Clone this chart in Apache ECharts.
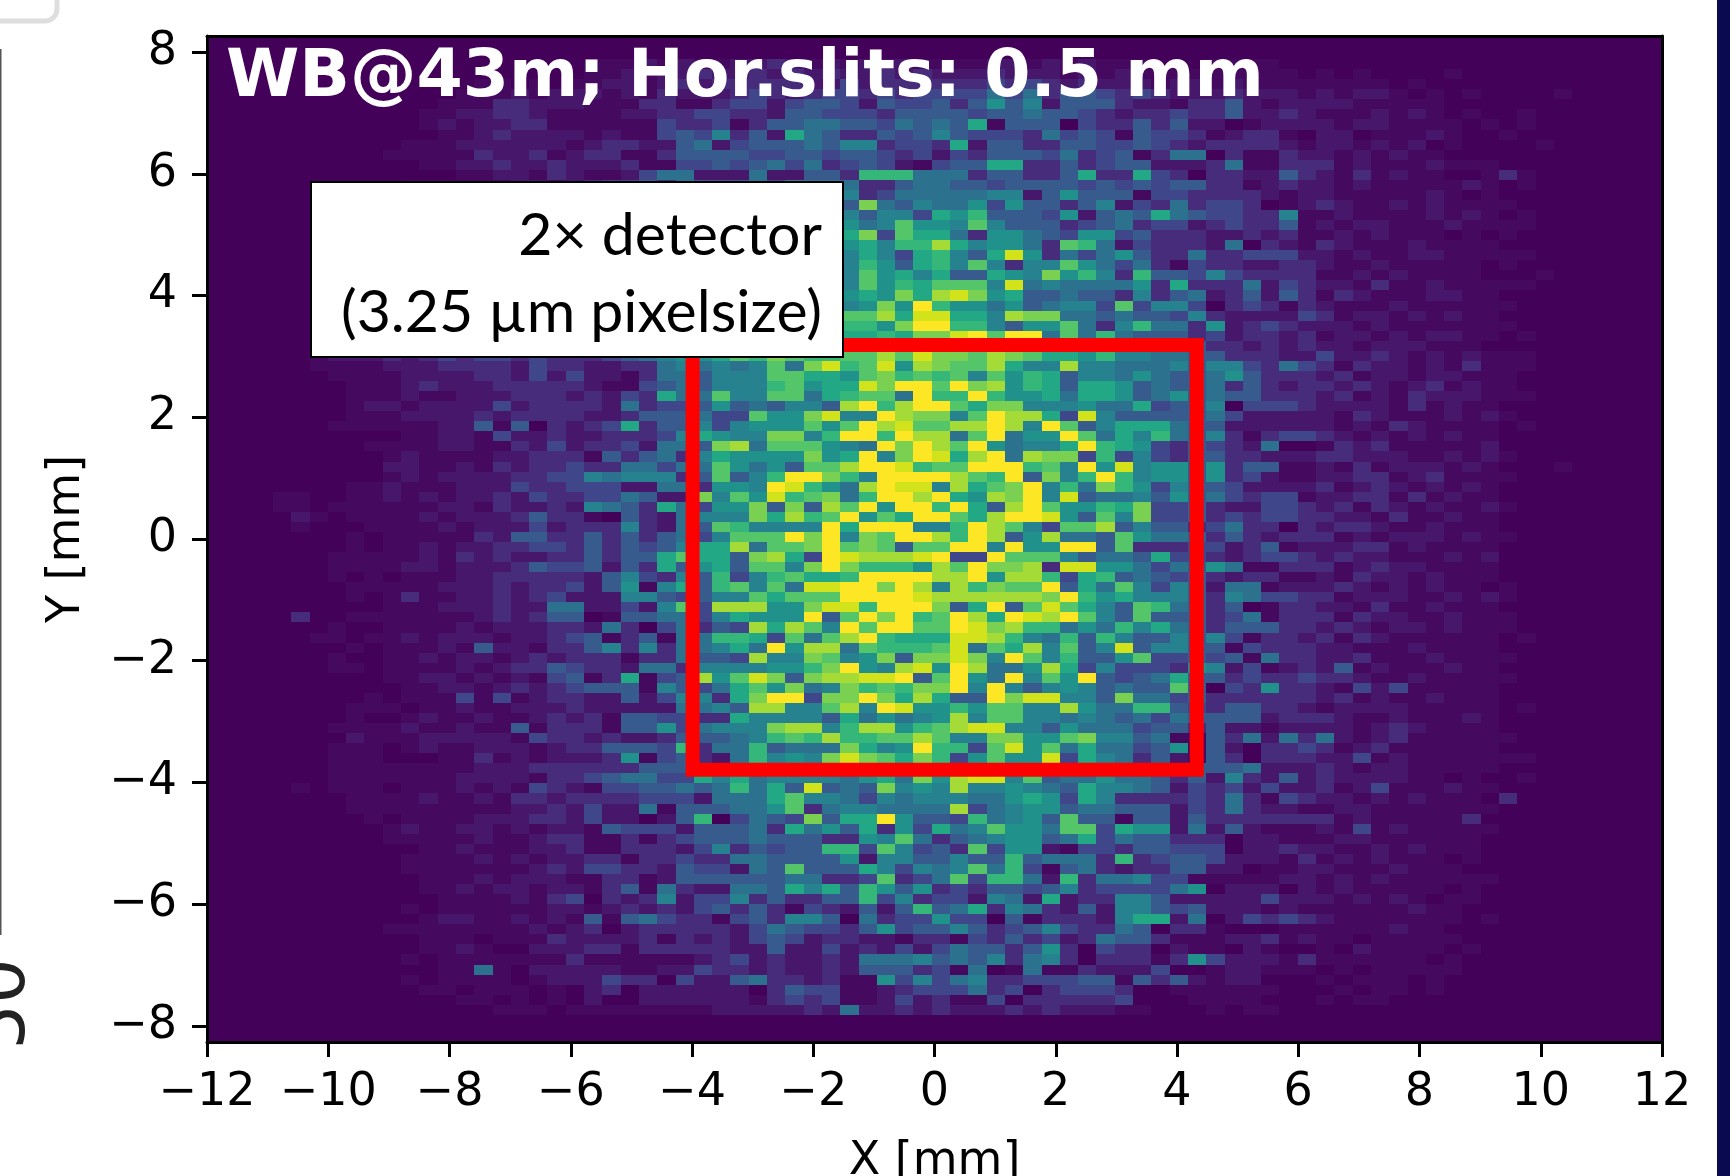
<!DOCTYPE html>
<html>
<head>
<meta charset="utf-8">
<style>html,body{margin:0;padding:0;background:#fff;overflow:hidden}#c{width:1730px;height:1176px}</style>
<script src="https://cdn.jsdelivr.net/npm/echarts@6/dist/echarts.min.js"></script>
</head>
<body>
<div id="c"></div>
<script>
// Histogram bins
const xFirstEdge = -12.12, xBinWidth = 0.30186;
const yFirstEdge = 8.379, yBinHeight = 0.16526;
const groupStartColumn = [0, 21, 41, 61];
const maxLevel = 15;
// Counts per bin, top row first, one hex digit (0..f) per bin, in four column groups.
const heatRows = [
'0 0 0 0','0 0 0 0','0 0 0 0',
'000000000000000000000 11121211223212122211 11221212111000111100 0000000000000000000',
'000000000000000000000 11212232232323223232 22322212121111111110 1010000100000000000',
'000000000000000110101 12212323333322423333 33434323222122121111 1111010000000000000',
'000000000000001112122 21213222343234434344 44646355434322232221 2122101010000100000',
'000000000000011133222 11133113442455425445 35857255532213352122 2211111000000000000',
'000000000000112233211 11223344332554443555 54556554323343352232 1112121010010000000',
'000000000000121223311 11114334135566554656 59155504335352201222 2122111101010000000',
'000000000000011232222 12114547352965335457 54443645415443123310 2201112100100000000',
'000000000001112222221 23322562455565773443 92553355445432333321 2212120100001000000',
'000000000011111322312 33113555544554554342 43555463451366031132 2121211000000000000',
'000000000000112232232 22311445456463454214 55993353455222361133 3121112111000000000',
'000000000000001122132 112466222622553aaa66 63553359339430332253 2131211001310000000',
'000000000001111112212 34453655564766633566 55455554545455331232 2121111121010000000',
'000000111111212322122 43545466657675734666 66772585551443333212 2111112101000000000',
'000000112112122233213 355645677568775c6576 68485535724363443012 3211212111100000000',
'000000111211222322234 44655768877887757749 8a555482565965443371 1211112121010000000',
'000000111122123223233 35467576887a87867b88 7b755534563442343351 2122111211110000000',
'000000112112223232323 46575689a799779c4b99 63886548845333223231 1212111010100000000',
'000000111122212333232 35564778879a98897aad 978863ba624333260321 3211121111000000000',
'000000111212233323332 46566869a87a8879749a 759e8364685336334442 2121122111110000000',
'000000112122223233423 34657786a9a8977a859a 7b7377b8646314332233 2112111110100000000',
'000000111222322343333 45566878a89a997b8979 55987c8a73a554743333 1121211110001000000',
'000000111122323334232 36577889ab9a887b8a9b bb7e6766668393336243 2213112111110000000',
'000000112212233343342 45666979a9ab9a898c9d ec895565537356235253 1321112211000000000',
'000000111222323234434 3557678aa8ab9978c8fa 886856774b4774034313 2111211111100000000',
'000000112122332343443 46667889baabb9bbd9ee 997dcc66565547322224 3122121211000000000',
'000000111223233344332 35568799abbaa9aa8cff aa7588b637a663823432 2212111111100000000',
'000000112222334343443 34568889a9baaa99a9cc efbff6b6a65553423323 1221212211010000000',
'000000111232333443434 45667899abbcaaaacbdc bcbcba98a87765332323 2212221110000000000',
'000000122232343443433 34567889bacbaabbdbec cbdcb998a77665533322 4223212121110000000',
'000000111122233332433 2233676767b6ceabe8dc bbd977d7766675774364 3132212131110000000',
'000000011112222332424 2213665777bb998bcaba b7b8a957768655685333 2312212211100000000',
'000000001112322233333 2114565777ab899ecffb fcd8a959985655635323 3232123121100000000',
'000000001112112223332 3243966b77bb69abb6fa afa88969985685655333 2312132221110000000',
'000000001221222242333 32634458565775dfadff b9cc7778669455704443 2222131211000000000',
'000000001112222323333 223555644b88ce77fdcc 7bfdd94e755555642222 2132111212100000000',
'000000011111122515032 349355747888b8bfdebb ddfd7fb5799965522222 2121321111010000000',
'000000000001122142232 2333479877cc7affafdd 6bf688fb697a65731344 3212121211000000000',
'000000000111122113242 3342665cd6bbb876fcfd bf86779fa98435432600 1323111112000000000',
'000000000012111122333 153563798888c89f7cfe 9df6dcc4a47435533222 3322211212100000000',
'000000000022112132334 3366466b8685bbdffeab bfffab7f8e7885835511 2131222121000100000',
'000000000012122223344 7677735b57affca7ffff dbaf5c7afa7885834211 2233123111100000000',
'000000001121112224334 4422663887fea86dfee7 d9bcf7a6ca8475542222 3123212121000000000',
'000011001121212232433 446522c7b8eabc6affdf 98dcf7e5667585643441 2233131211000000000',
'000011011111122132232 765396488c5c5dbf8ffa f95dfb88a9c445322443 2313212112100000000',
'000002101111212223533 105326777c9dabf8b9ff b9dffe85b7c445343443 3221311211000000000',
'000001000111121222423 3373265ba7777f9fff77 afdb74bbd57553463303 2332112111000000000',
'000000001011111325533 53535647bbbfcf7cbffd afd58d665b8665353233 3121222121100000000',
'000000001011212233443 53545799d6bbcfbcb5bb ff7f88ff5b3334423512 2233121111000000000',
'000000011111213232233 53559b995cd94fedddef 44fbbb75665944323443 2322111212000000000',
'000000011112212223544 525395895bb7cfcaaa8d bfccd3ee886465861133 3123221111000000000',
'000000010101112233333 2574375a47ab99affffd df8dda49a56545323311 2132212111000000000',
'000000001111122232334 2581795ab7b6eeffcfd7 dacbbf596b7475266122 2321212110100000000',
'000000001013112232342 227754577b9bbbffffed dddddcfa897775376443 3122211212100000000',
'000000000011122232266 22427b4ddd88ceeafffc 59f5beb975ba65350133 2213112111000000000',
'000003001111111232355 015566479888f5bfcfab fd9fedfb75b555346133 3132211211100000000',
'000000010011112122233 263046354d9db7fbffbb fecdaa686a7965355533 2321221211100000000',
'000000110112122212234 5135166aa94b6bdfa999 eeda76a5a75575741332 3132111111010000000',
'000000001011121522133 5737366796f8dd6baaab e6b9d7b57e5775514333 2211121111000000000',
'000000010011212212323 331336554d77cb78c5cc ec7fb7a558b445451633 2231112111100000000',
'000000011011112123354 332663777788acf87de8 fd668d94744438724123 2512111211000000000',
'000000000011221212145 139145d8bec5cddeef5b f86f7b8f545695534334 3321121111100000000',
'000000000001122123234 555175469b8c67cabacc f7f757875655b5043833 2142411111000000000',
'000000000101114141233 225247739cff4ccfc9d9 55fcee775c6645333333 2312112111000000000',
'000000001110112112223 222226675dd77bd7fe88 a8bb77d866aa54355332 1222211111010000000',
'000000001001211211232 31554433977775968678 d7bb7767656465555233 3211211121000000000',
'000000011112112115133 3155846777cdd7add8ab dee77586664553522122 2212321111000000000',
'000000002111222221433 2322355567abadaabbdb 77cc88bc775611536263 6212311111100000000',
'000000011101211222123 35554a366a5666c978fa a4be8b69664581520334 3123111111000000000',
'000000011100011312122 238145326a787cecb9ca 48b88e49763521530333 2241211111110000000',
'000000011111111222333 3335555678ac9bbaaab9 9bb9a8b8766655556222 3212211111000000000',
'000000011111112222133 456644979677776896c8 dee7b566866535273252 3222211010010000000',
'000001011101112121432 14455656a695e565c787 d7787659776524342422 3124111211000000000',
'000000001111211213323 33344426669b77647677 76689849733334363143 2212121110300000000',
'000000001111111112232 42261555668b36776666 d4678856655524363221 1221111111000000000',
'000000000101111222332 422025a04654c599f855 4a6785b5515525333333 3121111130000000000',
'000000000012112212122 15444255563968593849 67b886bb498826252111 2141211111000000000',
'000000000011111211233 11313455565553387b63 56788569465533302211 1221111110000000000',
'000000000000112111223 1133324735455aa4b745 3b488214435544402232 2112121110000000000',
'000000000001111212122 33133433665555827755 755a56663a3455422213 1212111010000000000',
'000000000001111111232 44332544265b55597476 7b6a4156323355220112 2111211100000000000',
'000000000000111212221 1331255555566334b346 b4aa62a3667441111122 1212111111000000000',
'000000000000112122122 135163226659795a8583 43554573444468022202 1211111010000000000',
'000000000000011112134 032372447353355a4734 42762923377522222422 2121210110000000000',
'000000000001011111122 123232453531432525a5 69376325277545222121 1111121100000000000',
'000000000000122112121 51564331453775063448 44051333279926024343 2111111101000000000',
'000000000011111111212 30233333246544358455 75345743365033100011 1111211000000000000',
'000000000000111011132 22231323245423322133 14353423655311122312 1101111100000000000',
'000000000000112100222 33133333225224232424 65535830433021102100 1021111010000000000',
'000000000001011111113 11111123423223266675 65736730333138422213 1111110100000000000',
'000000000000011610222 22112243323223255534 16016113222400122111 0101111100000000000',
'000000000001011110122 24330422563323118474 67334445515352122000 1011101000000000000',
'000000000000110111010 23022222203544112344 46340344430011111100 0101101000000000000',
'000000000000001101010 20022222213434112423 11403333340001111000 1011000000000000000',
'000000000000000011101 11111112222232622323 22232322211000101100 0000000000000000000',
'0 0 0 0','0 0 0 0','0 0 0 0'
];
// Colour ramp (viridis, with the dimmest steps held close to the background)
const viridis = ['#44015a','#450a60','#46176b','#462c7b','#3f4689','#375b8d','#2c728e','#26828e','#21918c','#22a884','#35b779','#54c568','#7ad151','#a5db36','#d2e21b','#fde725'];

const yTickValues = [-8,-6,-4,-2,0,2,4,6,8];
const xAxisTitle = 'X [mm]';
const yAxisTitle = 'Y [mm]';
const plotTitle = 'WB@43m; Hor.slits: 0.5 mm';
const noteLines = ['2× detector', '(3.25 µm pixelsize)'];
const croppedFragment = '50';
// Red region outline in data coordinates
const regionX = [-3.99, 4.325, 4.325, -3.99, -3.99];
const regionY = [3.187, 3.187, -3.79, -3.79, 3.187];

const cells = [];
heatRows.forEach((row, r) => {
  row.split(' ').forEach((group, g) => {
    for (let i = 0; i < group.length; i++) {
      const c = groupStartColumn[g] + i;
      if (c > 79) continue;
      const left = xFirstEdge + c * xBinWidth;
      const top = yFirstEdge - r * yBinHeight;
      cells.push([left, top, left + xBinWidth, top - yBinHeight, parseInt(group[i], 16)]);
    }
  });
});

const minusFmt = v => String(v).replace('-', '\u2212');
const FONT = '"DejaVu Sans"';
const axisCommon = {
  type: 'value', z: 6,
  axisLine: {show: true, onZero: false, lineStyle: {color: '#000', width: 3}},
  splitLine: {show: false}
};
const chart = echarts.init(document.getElementById('c'), null, {renderer: 'canvas'});
chart.setOption({
  animation: false,
  backgroundColor: '#fff',
  grid: {left: 207, right: 68, top: 36, bottom: 134, show: true, backgroundColor: viridis[0], borderWidth: 0, outerBoundsMode: 'none', containLabel: false},
  xAxis: [
    Object.assign({}, axisCommon, {
      position: 'bottom', min: -12, max: 12, interval: 2,
      name: xAxisTitle, nameLocation: 'middle', nameGap: 97,
      nameTextStyle: {fontFamily: FONT, fontSize: 46, color: '#000'},
      axisTick: {show: true, length: 15, lineStyle: {color: '#000', width: 3}},
      axisLabel: {fontFamily: FONT, fontSize: 46, color: '#000', margin: 28, formatter: minusFmt}
    }),
    Object.assign({}, axisCommon, {position: 'top', min: -12, max: 12, axisTick: {show: false}, axisLabel: {show: false}})
  ],
  yAxis: [
    Object.assign({}, axisCommon, {
      position: 'left', min: -8.263, max: 8.263,
      name: yAxisTitle, nameLocation: 'middle', nameRotate: 90, nameGap: 117,
      nameTextStyle: {fontFamily: FONT, fontSize: 46, color: '#000'},
      axisTick: {show: true, length: 15, customValues: yTickValues, lineStyle: {color: '#000', width: 3}},
      axisLabel: {fontFamily: FONT, fontSize: 46, color: '#000', margin: 30, customValues: yTickValues, formatter: minusFmt}
    }),
    Object.assign({}, axisCommon, {position: 'right', min: -8.263, max: 8.263, axisTick: {show: false}, axisLabel: {show: false}})
  ],
  visualMap: {show: false, type: 'continuous', seriesIndex: 0, dimension: 4, min: 0, max: maxLevel, inRange: {color: viridis}},
  series: [
    {
      type: 'custom', coordinateSystem: 'cartesian2d', xAxisIndex: 0, yAxisIndex: 0,
      data: cells, progressive: 0, silent: true, z: 2,
      encode: {x: [0, 2], y: [1, 3]},
      renderItem(params, api) {
        const a = api.coord([api.value(0), api.value(1)]);
        const b = api.coord([api.value(2), api.value(3)]);
        const x0 = Math.round(a[0]), y0 = Math.round(a[1]), x1 = Math.round(b[0]), y1 = Math.round(b[1]);
        const shape = echarts.graphic.clipRectByRect(
          {x: x0, y: y0, width: x1 - x0, height: y1 - y0},
          {x: params.coordSys.x, y: params.coordSys.y, width: params.coordSys.width, height: params.coordSys.height}
        );
        return shape && {type: 'rect', shape, style: {fill: api.visual('color')}};
      }
    },
    {
      type: 'line', xAxisIndex: 0, yAxisIndex: 0, z: 4, silent: true, showSymbol: false, symbol: 'none',
      data: regionX.map((x, i) => [x, regionY[i]]),
      lineStyle: {color: '#ff0000', width: 14, join: 'miter', cap: 'square'}
    }
  ],
  graphic: [
    {type: 'rect', z: 50, shape: {x: -30, y: -30, width: 87, height: 51, r: 12}, style: {fill: '#fff', stroke: '#dedede', lineWidth: 5}},
    {type: 'rect', z: 50, shape: {x: 0, y: 49, width: 1.5, height: 886}, style: {fill: '#555'}},
    {type: 'rect', z: 50, shape: {x: 1717, y: 0, width: 13, height: 1176}, style: {fill: '#0a0a50'}},
    {type: 'text', z: 50, x: 41, y: 1004, rotation: Math.PI / 2,
      style: {text: croppedFragment, font: '72px ' + FONT, fill: '#222', align: 'center', verticalAlign: 'bottom'}},
    {type: 'text', z: 50, x: 226, y: 79,
      style: {text: plotTitle, font: 'bold 66.5px ' + FONT, fill: '#fff', align: 'left', verticalAlign: 'middle'}},
    {type: 'rect', z: 50, shape: {x: 311, y: 182, width: 532, height: 175}, style: {fill: '#fff', stroke: '#000', lineWidth: 2}},
    {type: 'text', z: 51, x: 822, y: 236,
      style: {text: noteLines[0], font: '59px Lato', fill: '#000', align: 'right', verticalAlign: 'middle'}},
    {type: 'text', z: 51, x: 822, y: 313,
      style: {text: noteLines[1], font: '59px Lato', fill: '#000', align: 'right', verticalAlign: 'middle'}}
  ]
});
</script>
</body>
</html>
